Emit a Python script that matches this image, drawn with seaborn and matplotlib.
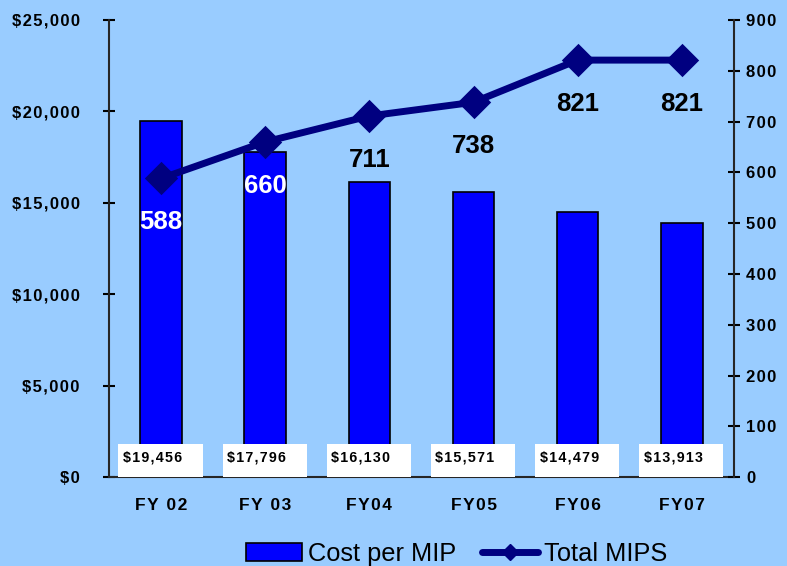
import numpy as np
import pandas as pd
import matplotlib.pyplot as plt
import seaborn as sns
from matplotlib.patches import Patch, Rectangle
from matplotlib.lines import Line2D

sns.set_style("white")
plt.rcParams['font.family'] = ['Liberation Sans', 'DejaVu Sans']
plt.rcParams.update({'text.color': 'black', 'xtick.color': 'black', 'ytick.color': 'black'})

categories = ["FY 02", "FY 03", "FY04", "FY05", "FY06", "FY07"]
cost_per_mip = [19456, 17796, 16130, 15571, 14479, 13913]
total_mips = [588, 660, 711, 738, 821, 821]
mips_label_colors = ["white", "white", "black", "black", "black", "black"]

bg = "#99CCFF"
sp = "\u200a"


def spaced(s):
    return sp.join(s)


df = pd.DataFrame({"year": categories, "cost": cost_per_mip, "mips": total_mips})

fig = plt.figure(figsize=(7.87, 5.66), dpi=100, facecolor=bg)
ax = fig.add_axes([0.1385, 0.157, 0.794, 0.8077])
ax.set_facecolor(bg)

sns.barplot(data=df, x="year", y="cost", color="#0000FF", saturation=1,
            width=0.4, edgecolor="black", linewidth=1.2, ax=ax)
ax.set_ylim(0, 25000)
ax.set_xlim(-0.5, len(categories) - 0.5)
ax.set_xlabel("")
ax.set_ylabel("")

ax2 = ax.twinx()
sns.pointplot(data=df, x="year", y="mips", color="#000080", markers="D",
              markersize=13.5, linewidth=5, ax=ax2)
ax2.set_ylim(0, 900)
ax2.set_xlim(-0.5, len(categories) - 0.5)
ax2.set_ylabel("")

ax.spines["top"].set_visible(False)
ax2.spines["top"].set_visible(False)
ax.spines["right"].set_visible(False)
for s in ["left", "bottom"]:
    ax.spines[s].set_linewidth(1.5)
ax2.spines["right"].set_linewidth(1.5)
ax2.spines["left"].set_visible(False)
ax2.spines["bottom"].set_visible(False)

yt = np.arange(0, 25001, 5000)
ax.set_yticks(yt)
ax.set_yticklabels([spaced("${:,}".format(v)) for v in yt], fontweight="bold", fontsize=12)
ax.tick_params(axis="y", direction="inout", length=8, width=1.5, pad=17)

yt2 = np.arange(0, 901, 100)
ax2.set_yticks(yt2)
ax2.set_yticklabels([spaced(str(v)) for v in yt2], fontweight="bold", fontsize=12)
ax2.tick_params(axis="y", direction="inout", length=8, width=1.5, pad=5)

ax.set_xticks(range(len(categories)))
ax.set_xticklabels([spaced(c) for c in categories], fontweight="bold", fontsize=12.5)
ax.set_xticks(np.arange(-0.5, len(categories), 1), minor=True)
ax.tick_params(axis="x", which="major", length=0, pad=15)
ax.tick_params(axis="x", which="minor", direction="inout", length=10, width=1.5)

for i, (c, v) in enumerate(zip(cost_per_mip, total_mips)):
    ax.add_patch(Rectangle((i - 0.41, 0), 0.81, 1800, facecolor="white",
                           edgecolor="none", zorder=5))
    ax.text(i - 0.365, 1050, spaced("${:,}".format(c)), fontsize=10.3, fontweight="bold",
            ha="left", va="center", zorder=6)
    ax2.text(i, v - 86, str(v), fontsize=18.5, fontweight="bold", color=mips_label_colors[i],
             ha="center", va="center")

handles = [Patch(facecolor="#0000FF", edgecolor="black", linewidth=1.2),
           Line2D([0], [0], color="#000080", linewidth=5, marker="D", markersize=8)]
fig.legend(handles, ["Cost per MIP", "Total MIPS"], loc="lower center",
           bbox_to_anchor=(0.58, -0.04), ncol=2, frameon=False, fontsize=18.3,
           handlelength=2.2, handletextpad=0.25, columnspacing=1.0)

fig.savefig("out.png", dpi=100, facecolor=bg)
